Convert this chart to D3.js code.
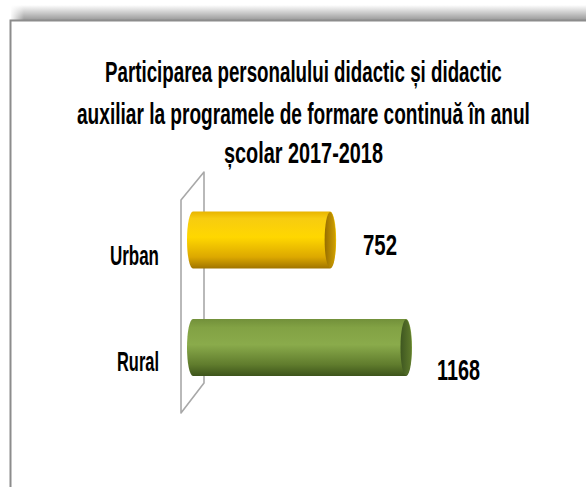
<!DOCTYPE html>
<html>
<head>
<meta charset="utf-8">
<script src="https://cdn.jsdelivr.net/npm/d3@7/dist/d3.min.js"></script>
<style>
  html, body { margin: 0; padding: 0; background: #fff; }
  svg { display: block; }
  text { font-family: "Liberation Sans", Arial, sans-serif; font-weight: bold; fill: #000; }
</style>
</head>
<body>
<svg id="chart" width="586" height="487"></svg>
<script>
// ---- data ----
const categories = ["Urban", "Rural"];
const values = [752, 1168];
const valueLabels = ["752", "1168"];
const titleLines = [
  "Participarea personalului didactic și didactic",
  "auxiliar  la programele de formare continuă în anul",
  "școlar  2017-2018"
];

// ---- layout ----
const W = 586, H = 487;
const svg = d3.select("#chart");
const defs = svg.append("defs");

// fit a text horizontally to a target width (condensed look), anchored by 'anchor'
function fitText(sel, xs, ys, widths, anchor) {
  sel.each(function (d, i) {
    const t = d3.select(this).attr("x", 0).attr("y", 0).attr("text-anchor", "start");
    const w = this.getComputedTextLength();
    const sx = widths[i] / w;
    let x0 = xs[i];
    if (anchor === "middle") x0 = xs[i] - widths[i] / 2;
    if (anchor === "end") x0 = xs[i] - widths[i];
    t.attr("transform", `translate(${x0},${ys[i]}) scale(${sx},1)`);
  });
}

// frame shadow
const sh = defs.append("linearGradient").attr("id", "topShadow")
  .attr("x1", 0).attr("y1", 0).attr("x2", 0).attr("y2", 1);
sh.append("stop").attr("offset", "0%").attr("stop-color", "#ffffff");
sh.append("stop").attr("offset", "100%").attr("stop-color", "#9a9a9a");
const shL = defs.append("linearGradient").attr("id", "leftFade")
  .attr("x1", 0).attr("y1", 0).attr("x2", 1).attr("y2", 0);
shL.append("stop").attr("offset", "0%").attr("stop-color", "#ffffff").attr("stop-opacity", 1);
shL.append("stop").attr("offset", "100%").attr("stop-color", "#ffffff").attr("stop-opacity", 0);

svg.append("rect").attr("x", 11).attr("y", 5).attr("width", W - 11).attr("height", 15)
  .attr("fill", "url(#topShadow)");
svg.append("rect").attr("x", 10).attr("y", 4).attr("width", 14).attr("height", 16)
  .attr("fill", "url(#leftFade)");
svg.append("path").attr("d", `M10.5,${H} L10.5,20.5 L${W},20.5`)
  .attr("fill", "none").attr("stroke", "#8c8c8c").attr("stroke-width", 2);

// title
const titleBase = [82, 124, 163];
const titleWidths = [397, 453, 159];
const titleSel = svg.append("g").selectAll("text").data(titleLines).join("text")
  .attr("font-size", 29)
  .text(d => d);
fitText(titleSel, [303.5, 303.5, 303.5], titleBase, titleWidths, "middle");

// scales
const x = d3.scaleLinear().domain([0, 1400]).range([193, 448.3]);
const y = d3.scalePoint().domain(categories).range([240, 347.5]);
const barH = 57;
const rx = 6;

// 3D wall (back plane)
const wallFront = 181, wallBack = 204;
const wallPath = `M${wallFront},413 L${wallFront},200 L${wallBack},172 L${wallBack},383 Z`;
svg.append("path").attr("d", wallPath)
  .attr("fill", "none").attr("stroke", "#a8a8a8").attr("stroke-width", 1.6)
  .attr("stroke-linejoin", "round");

// gradients for cylinders
const palettes = [
  { id: "gUrban", stops: [["0%", "#e8b400"], ["12%", "#f7cc10"], ["45%", "#ffd700"], ["80%", "#dca800"], ["100%", "#a07400"]], cap: ["#d0a000", "#976e00"] },
  { id: "gRural", stops: [["0%", "#72903a"], ["15%", "#82a244"], ["45%", "#8aab4b"], ["80%", "#607c2d"], ["100%", "#3d541b"]], cap: ["#5e7a2c", "#3e5620"] }
];
palettes.forEach(p => {
  const g = defs.append("linearGradient").attr("id", p.id)
    .attr("x1", 0).attr("y1", 0).attr("x2", 0).attr("y2", 1);
  p.stops.forEach(s => g.append("stop").attr("offset", s[0]).attr("stop-color", s[1]));
  const c = defs.append("linearGradient").attr("id", p.id + "Cap")
    .attr("x1", 0).attr("y1", 0).attr("x2", 1).attr("y2", 0);
  c.append("stop").attr("offset", "0%").attr("stop-color", p.cap[1]);
  c.append("stop").attr("offset", "100%").attr("stop-color", p.cap[0]);
});

const bars = svg.append("g").selectAll("g").data(categories).join("g");
bars.append("path")
  .attr("d", (d, i) => {
    const xL = x(0), xR = x(values[i]);
    const y0 = y(d) - barH / 2, y1 = y(d) + barH / 2, ry = barH / 2;
    return `M${xL},${y0} L${xR},${y0} A${rx},${ry} 0 0 1 ${xR},${y1} L${xL},${y1} A${rx},${ry} 0 0 1 ${xL},${y0} Z`;
  })
  .attr("fill", (d, i) => `url(#${palettes[i].id})`);
bars.append("ellipse")
  .attr("cx", (d, i) => x(values[i]))
  .attr("cy", d => y(d))
  .attr("rx", rx - 0.5)
  .attr("ry", barH / 2 - 0.5)
  .attr("fill", (d, i) => `url(#${palettes[i].id}Cap)`);

// category labels
const catSel = svg.append("g").selectAll("text").data(categories).join("text")
  .attr("font-size", 27)
  .text(d => d);
fitText(catSel, [159, 159], [265, 371], [49, 42], "end");

// value labels
const valSel = svg.append("g").selectAll("text").data(valueLabels).join("text")
  .attr("font-size", 30)
  .text(d => d);
fitText(valSel, [363, 437], [255, 380], [34, 43], "start");
</script>
</body>
</html>
